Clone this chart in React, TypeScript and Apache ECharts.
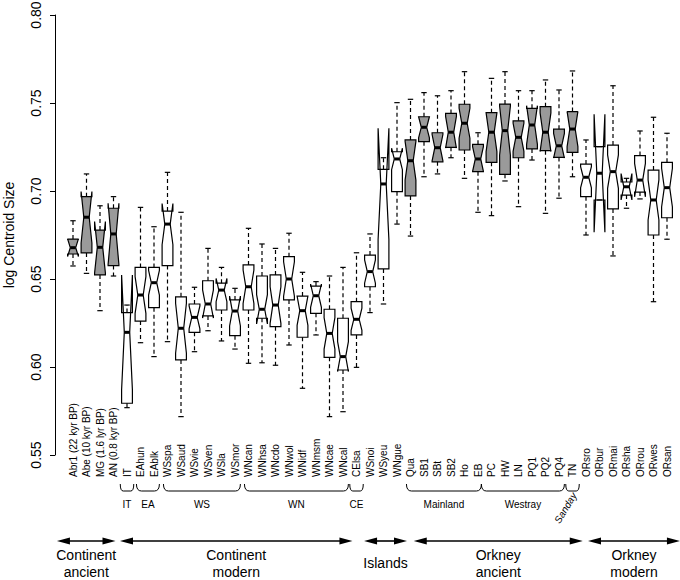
import React, { useEffect, useRef } from "react";
import * as echarts from "echarts";

const categories = [
  "Abr1 (22 kyr BP)", "Abe (10 kyr BP)", "MG (1.6 lyr BP)", "AN (0.8 kyr BP)", "IT",
  "EAhun", "EAblk", "WSspa", "WSaud", "WSvie", "WSven", "WSla", "WSmor",
  "WNcan", "WNhsa", "WNcdo", "WNwol", "WNidf", "WNmsm", "WNcae", "WNcal",
  "CElsa", "WSnoi", "WSyeu", "WNgue", "Qua", "SB1", "SBt", "SB2", "Ho", "EB",
  "PC", "HW", "LN", "PQ1", "PQ2", "PQ4", "TN", "ORsro", "ORbur", "ORmai",
  "ORsha", "ORrou", "ORwes", "ORsan",
];

const lowerWhisker = [
  0.6574, 0.6532, 0.632, 0.6517, 0.5769, 0.6138, 0.6059, 0.6144, 0.5718, 0.6087,
  0.6206, 0.6148, 0.6102, 0.6021, 0.6024, 0.601, 0.6125, 0.5879, 0.6182, 0.5718,
  0.5746, 0.5998, 0.6309, 0.6358, 0.6812, 0.6744, 0.7081, 0.7097, 0.7189, 0.7072,
  0.6879, 0.686, 0.7057, 0.6911, 0.7176, 0.6873, 0.6959, 0.7081, 0.675, 0.6949,
  0.6631, 0.6902, 0.6955, 0.6371, 0.6726,
];
const lowerHinge = [
  0.6642, 0.6648, 0.6523, 0.6576, 0.5794, 0.6261, 0.6337, 0.6576, 0.604, 0.6197,
  0.629, 0.6324, 0.6178, 0.6324, 0.6277, 0.6229, 0.6381, 0.6169, 0.6305, 0.6055,
  0.5983, 0.6182, 0.6456, 0.6557, 0.6996, 0.6972, 0.728, 0.7166, 0.7248, 0.7233,
  0.711, 0.7163, 0.7095, 0.7189, 0.7239, 0.7229, 0.7191, 0.722, 0.6968, 0.6949,
  0.6898, 0.6977, 0.6994, 0.675, 0.6848,
];
const medians = [
  0.6678, 0.6851, 0.668, 0.6756, 0.6197, 0.6409, 0.6479, 0.6812, 0.622, 0.6282,
  0.6358, 0.6437, 0.6318, 0.6456, 0.6328, 0.6352, 0.65, 0.632, 0.6405, 0.6191,
  0.6059, 0.6271, 0.6542, 0.704, 0.7182, 0.7172, 0.7362, 0.7246, 0.7334, 0.7385,
  0.7182, 0.7334, 0.7343, 0.7305, 0.7375, 0.7334, 0.7257, 0.7352, 0.7078, 0.7101,
  0.711, 0.7024, 0.7062, 0.6949, 0.7019,
];
const upperHinge = [
  0.6727, 0.6968, 0.6778, 0.6902, 0.6309, 0.6566, 0.6566, 0.6886, 0.6399, 0.6358,
  0.649, 0.6476, 0.6381, 0.658, 0.6517, 0.6523, 0.6627, 0.6403, 0.646, 0.6328,
  0.6277, 0.6371, 0.6636, 0.7123, 0.7223, 0.729, 0.7422, 0.7331, 0.7441, 0.7493,
  0.7265, 0.7445, 0.7494, 0.7399, 0.747, 0.7479, 0.7351, 0.7451, 0.7153, 0.7252,
  0.7261, 0.7051, 0.7201, 0.7119, 0.7163,
];
const upperWhisker = [
  0.6831, 0.7097, 0.6916, 0.6968, 0.6352, 0.6907, 0.6797, 0.7106, 0.6879, 0.6453,
  0.6674, 0.6566, 0.6447, 0.6788, 0.6699, 0.6674, 0.676, 0.6538, 0.6485, 0.6517,
  0.6566, 0.6649, 0.6756, 0.7189, 0.7502, 0.7521, 0.7559, 0.7541, 0.757, 0.7678,
  0.7331, 0.764, 0.7678, 0.757, 0.757, 0.7631, 0.7574, 0.7682, 0.729, 0.7252,
  0.7598, 0.7072, 0.7341, 0.7419, 0.7328,
];
// half-length of each notch (median ± this value)
const notchHalf = [
  0.005, 0.0146, 0.0146, 0.0174, 0.0326, 0.0104, 0.007, 0.0117, 0.0142, 0.0065,
  0.008, 0.0066, 0.0085, 0.0095, 0.0083, 0.0104, 0.0098, 0.0083, 0.0066, 0.0089,
  0.0085, 0.0063, 0.0066, 0.0316, 0.0061, 0.011, 0.006, 0.0075, 0.009, 0.0085,
  0.007, 0.011, 0.014, 0.008, 0.011, 0.011, 0.007, 0.01, 0.006, 0.0335,
  0.0095, 0.0075, 0.0095, 0.0114, 0.011,
];
// 1 = ancient sample (grey box), 0 = modern (white box)
const shaded = [
  1, 1, 1, 1, 0, 0, 0, 0, 0, 0, 0, 0, 0, 0, 0, 0, 0, 0, 0, 0, 0, 0, 0, 0, 0,
  1, 1, 1, 1, 1, 1, 1, 1, 1, 1, 1, 1, 1, 0, 0, 0, 0, 0, 0, 0,
];

const braceLabels = ["IT", "EA", "WS", "WN", "CE", "Mainland", "Westray", "Sanday"];
const braceFrom = [4, 5, 7, 13, 21, 25, 30, 37];
const braceTo = [4, 6, 12, 20, 21, 30, 36, 37];

const regionLabels = ["Continent\nancient", "Continent\nmodern", "Islands", "Orkney\nancient", "Orkney\nmodern"];
const regionFrom = [0, 4, 22, 25, 38];
const regionTo = [3, 21, 24, 37, 44];

const yMin = 0.55;
const yMax = 0.8;
const yStep = 0.05;

const FONT = "'Liberation Sans', Arial, Helvetica, sans-serif";

export default function App() {
  const ref = useRef<HTMLDivElement>(null);

  useEffect(() => {
    if (!ref.current) return;
    const chart = echarts.init(ref.current, undefined, { renderer: "svg" });

    const boxData = categories.map((_, i) => [
      i, lowerWhisker[i], lowerHinge[i], medians[i], upperHinge[i], upperWhisker[i], notchHalf[i], shaded[i],
    ]);

    const renderBox = (params: any, api: any) => {
      const i = api.value(0);
      const lw = api.value(1), q1 = api.value(2), md = api.value(3), q3 = api.value(4), uw = api.value(5);
      const nt = api.value(6), sh = api.value(7);
      const x = api.coord([i, md])[0];
      const Y = (v: number) => api.coord([i, v])[1];
      const band = api.size([1, 0])[0];
      const hw = band * 0.4;
      const nf = 0.5;
      const yq1 = Y(q1), yq3 = Y(q3), ym = Y(md), ylo = Y(md - nt), yhi = Y(md + nt);
      const ylw = Y(lw), yuw = Y(uw);
      const pts = [
        [x - hw, yq1], [x + hw, yq1], [x + hw, ylo], [x + hw * nf, ym], [x + hw, yhi],
        [x + hw, yq3], [x - hw, yq3], [x - hw, yhi], [x - hw * nf, ym], [x - hw, ylo],
      ];
      const ln = { stroke: "#000", lineWidth: 1.2 };
      return {
        type: "group",
        children: [
          { type: "polygon", shape: { points: pts }, style: { fill: sh ? "#9a9a9a" : "#ffffff", stroke: "#000", lineWidth: 1.2, lineJoin: "miter" } },
          { type: "line", shape: { x1: x - hw * nf, y1: ym, x2: x + hw * nf, y2: ym }, style: { stroke: "#000", lineWidth: 3, lineCap: "butt" } },
          { type: "line", shape: { x1: x, y1: yq3, x2: x, y2: yuw }, style: { ...ln, lineDash: [4, 3] } },
          { type: "line", shape: { x1: x, y1: yq1, x2: x, y2: ylw }, style: { ...ln, lineDash: [4, 3] } },
          { type: "line", shape: { x1: x - hw * 0.5, y1: yuw, x2: x + hw * 0.5, y2: yuw }, style: ln },
          { type: "line", shape: { x1: x - hw * 0.5, y1: ylw, x2: x + hw * 0.5, y2: ylw }, style: ln },
        ],
      };
    };

    const renderNotes = (params: any, api: any) => {
      const base = api.coord([0, yMin])[1];
      const band = api.size([1, 0])[0];
      const cx = (i: number) => api.coord([i, yMin])[0];
      const children: any[] = [];
      const ln = { stroke: "#000", lineWidth: 1, fill: "none" };

      // braces for sub-groups
      const yTop = base + 29;
      const yBot = base + 36;
      braceLabels.forEach((lab, k) => {
        const f = braceFrom[k], t = braceTo[k];
        let left: number, right: number;
        if (f === t) {
          left = cx(f) - band * 0.5;
          right = cx(t) + band * 0.5;
        } else {
          left = k > 0 && braceTo[k - 1] === f ? cx(f) + band * 0.25 : cx(f) - band * 0.3;
          right = k < braceLabels.length - 1 && braceFrom[k + 1] === t ? cx(t) + band * 0.25 : cx(t) + band * 0.4;
        }
        const r = f === t ? 3 : 5;
        children.push(
          { type: "bezierCurve", shape: { x1: left, y1: yTop, x2: left + r, y2: yBot, cpx1: left, cpy1: yBot }, style: ln },
          { type: "line", shape: { x1: left + r, y1: yBot, x2: right - r, y2: yBot }, style: ln },
          { type: "bezierCurve", shape: { x1: right - r, y1: yBot, x2: right, y2: yTop, cpx1: right, cpy1: yBot }, style: ln },
        );
        if (lab === "Sanday") {
          children.push({
            type: "text", x: (left + right) / 2 - 7, y: base + 53, rotation: (59 * Math.PI) / 180,
            style: { text: lab, fontSize: 10, fontFamily: FONT, fontStyle: "italic", fill: "#000", align: "center", verticalAlign: "middle" },
          });
        } else {
          children.push({
            type: "text", x: (left + right) / 2, y: base + 49,
            style: { text: lab, fontSize: 10, fontFamily: FONT, fill: "#000", align: "center", verticalAlign: "middle" },
          });
        }
      });

      // double-headed arrows for the broad regions
      const padL = [-1.19, -0.52, -0.44, 0.24, 0.15];
      const padR = [0.15, -0.3, 0.74, 0.76, 0.96];
      const ya = base + 86;
      const head = 13, hh = 3.5;
      regionLabels.forEach((lab, k) => {
        const left = cx(regionFrom[k]) + padL[k] * band;
        const right = cx(regionTo[k]) + padR[k] * band;
        children.push(
          { type: "line", shape: { x1: left + head - 1, y1: ya, x2: right - head + 1, y2: ya }, style: { stroke: "#000", lineWidth: 1.6 } },
          { type: "polygon", shape: { points: [[left, ya], [left + head, ya - hh], [left + head, ya + hh]] }, style: { fill: "#000" } },
          { type: "polygon", shape: { points: [[right, ya], [right - head, ya - hh], [right - head, ya + hh]] }, style: { fill: "#000" } },
          {
            type: "text", x: (left + right) / 2, y: base + 108,
            style: { text: lab, fontSize: 14, lineHeight: 17, fontFamily: FONT, fill: "#000", align: "center", verticalAlign: "middle" },
          },
        );
      });
      return { type: "group", children };
    };

    chart.setOption({
      animation: false,
      backgroundColor: "#ffffff",
      grid: { left: 66.25, right: 6.25, top: 15, bottom: 125, outerBoundsMode: "none" } as any,
      xAxis: {
        type: "category",
        data: categories,
        axisLine: { show: false },
        axisTick: { show: false },
        splitLine: { show: false },
        axisLabel: {
          interval: 0,
          rotate: 90,
          align: "left",
          verticalAlign: "middle",
          margin: 22,
          fontSize: 10,
          fontFamily: FONT,
          color: "#000",
          hideOverlap: false,
        },
      },
      yAxis: {
        type: "value",
        min: yMin,
        max: yMax,
        interval: yStep,
        offset: 11.25,
        name: "log Centroid Size",
        nameLocation: "middle",
        nameRotate: 90,
        nameGap: 39,
        nameTextStyle: { fontSize: 14, fontFamily: FONT, color: "#000" },
        axisLine: { show: true, lineStyle: { color: "#000", width: 1 } },
        axisTick: { show: true, length: 5, lineStyle: { color: "#000" } },
        splitLine: { show: false },
        axisLabel: {
          rotate: 90,
          margin: 12,
          fontSize: 14,
          fontFamily: FONT,
          color: "#000",
          formatter: (v: number) => v.toFixed(2),
        },
      },
      series: [
        {
          type: "custom",
          name: "boxes",
          renderItem: renderBox,
          data: boxData,
          encode: { x: 0, y: [1, 2, 3, 4, 5] },
          clip: false,
          silent: true,
        },
        {
          type: "custom",
          name: "notes",
          renderItem: renderNotes,
          data: [[0, yMin]],
          encode: { x: 0, y: 1 },
          clip: false,
          silent: true,
        },
      ],
    });

    return () => chart.dispose();
  }, []);

  return (
    <div
      ref={ref}
      style={{ position: "fixed", left: 0, top: 0, width: 680, height: 580, background: "#fff" }}
    />
  );
}
